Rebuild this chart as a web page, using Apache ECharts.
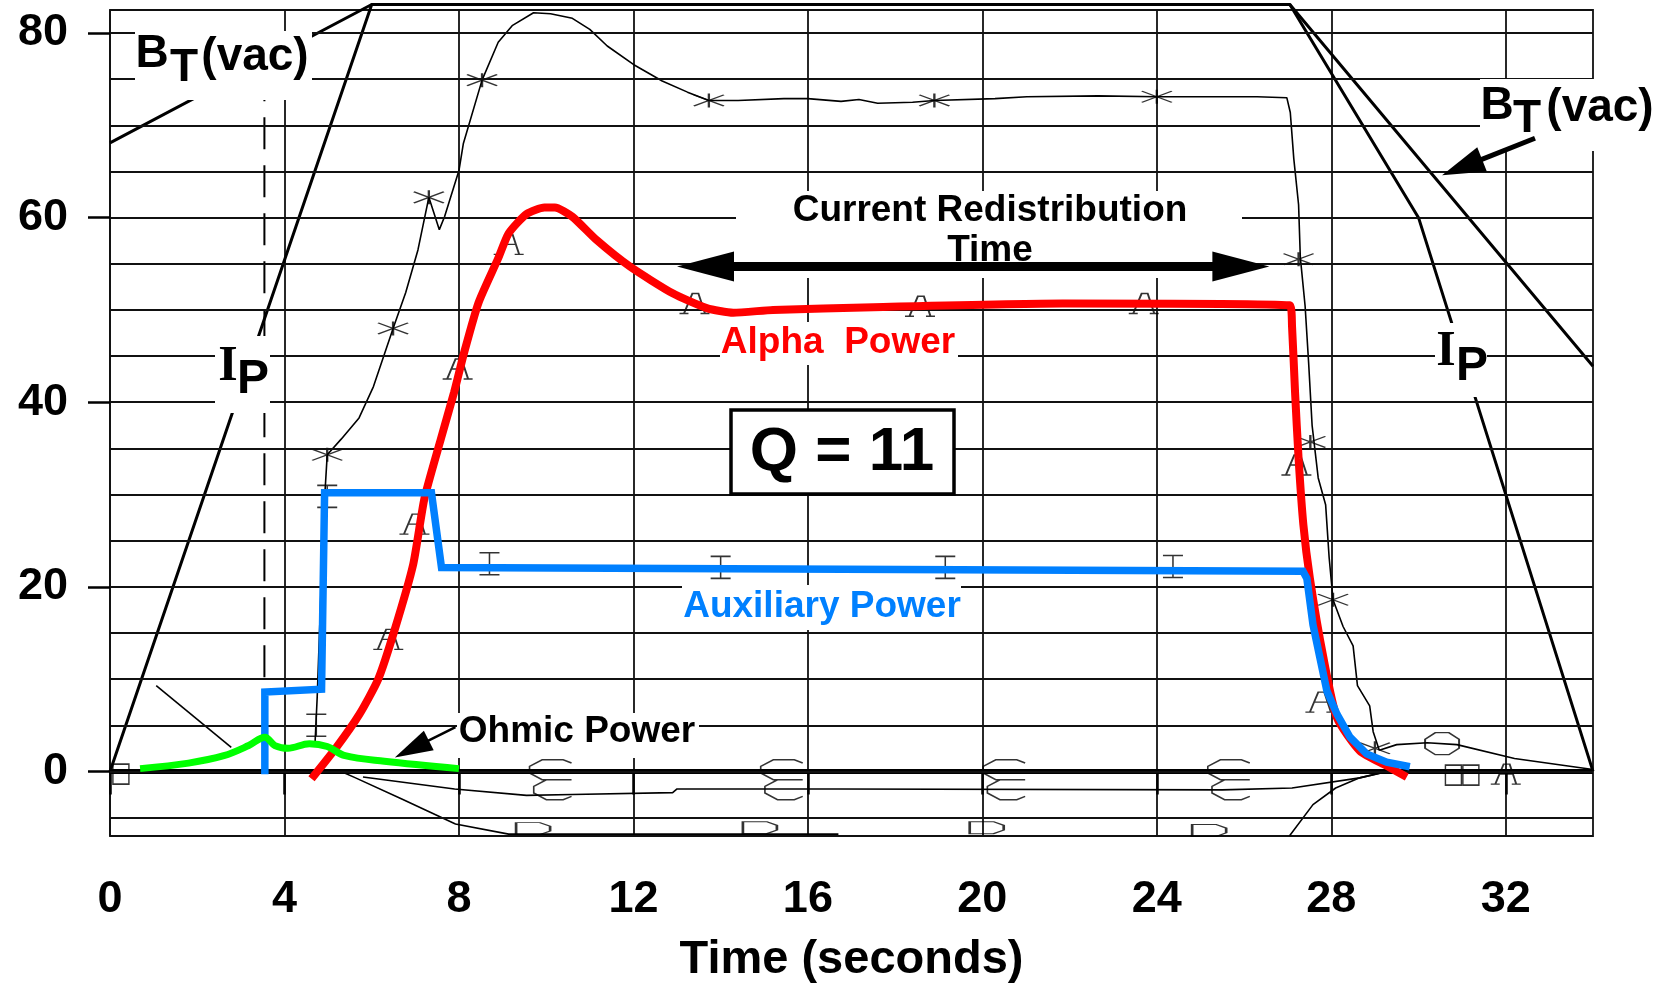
<!DOCTYPE html>
<html>
<head>
<meta charset="utf-8">
<title>Q = 11</title>
<script src="https://cdn.jsdelivr.net/npm/echarts@6/dist/echarts.min.js"></script>
<style>
	html, body { margin: 0; padding: 0; background: #fff; }
	#zoom { width: 1665px; height: 989px; }
</style>
</head>
<body>
<div id="zoom"></div>
<script>
	// axis ticks / grid
	const timeTicks = [0, 4, 8, 12, 16, 20, 24, 28, 32]
	const powerTicks = [0, 20, 40, 60, 80]
	const powerGrid = [-5, 0, 5, 10, 15, 20, 25, 30, 35, 40, 45, 50, 55, 60, 65, 70, 75, 80]

	// coil field and plasma current traces
	const btVac = [[0, 68.1], [6.0, 83.1], [27.05, 83.1], [34, 43.9]]
	const ipCurrent = [[0, 0], [6.0, 83.1], [27.05, 83.1], [30, 60], [34, 0]]
	const dashLine = [[3.54, -0.2], [3.54, 74.4]]
	const zeroLine = [[0, 0], [34, 0]]

	// heating powers (MW)
	const alphaPower = [[4.62, -0.8], [5.19, 2.6], [5.72, 6.2], [6.15, 10], [6.53, 15.4], [6.95, 22.4], [7.21, 29.6],
		[7.59, 36.1], [7.89, 41.1], [8.12, 45.4], [8.45, 50.8], [8.9, 55.6], [9.14, 58.3], [9.55, 60.4], [9.96, 61.1],
		[10.2, 61.1], [10.6, 60.1], [11.15, 57.6], [11.92, 54.7], [12.9, 51.8], [13.68, 50.2], [14.29, 49.7],
		[15.2, 50.0], [17.5, 50.3], [21.84, 50.7], [27.05, 50.5], [27.1, 48.2], [27.17, 41], [27.25, 33.9],
		[27.36, 26.7], [27.51, 20.9], [27.82, 12.3], [28.13, 5.8], [28.66, 2.2], [29.27, 0.6], [29.73, -0.6]]
	const auxPower = [[3.55, -0.3], [3.55, 8.6], [4.85, 8.9], [4.92, 30.2], [7.37, 30.2], [7.6, 22.1], [27.35, 21.7],
		[27.44, 20.9], [27.58, 15.9], [27.74, 12.3], [27.9, 8.7], [28.13, 6.2], [28.43, 3.7], [28.81, 1.9],
		[29.27, 1.0], [29.8, 0.5]]
	const ohmicPower = [[0.69, 0.3], [1.8, 0.9], [2.61, 1.7], [3.18, 2.8], [3.55, 3.7], [3.78, 2.8], [4.08, 2.5],
		[4.57, 3.0], [4.98, 2.7], [5.39, 1.7], [6.29, 1.1], [8.0, 0.3]]

	// thin measured traces
	const starTrace = [[4.7, 3], [4.75, 8], [4.9, 28], [4.98, 34.3], [5.3, 36], [5.71, 38.3], [6.04, 41.7], [6.49, 48],
		[6.78, 51.9], [7.06, 56.5], [7.31, 62.2], [7.55, 58.7], [7.67, 60.1], [8.0, 65.1], [8.1, 68], [8.53, 74.9],
		[8.9, 79], [9.22, 80.8], [9.71, 82.2], [10.1, 82.1], [10.6, 81.6], [11.0, 80.4], [11.4, 78.6], [12.0, 76.6],
		[12.66, 74.8], [13.24, 73.6], [13.73, 72.7], [14.4, 72.7], [15.45, 72.9], [16.0, 72.9], [16.76, 72.6],
		[17.17, 72.8], [17.6, 72.4], [18.4, 72.5], [18.9, 72.7], [20.29, 72.9], [21.02, 73.1], [22.65, 73.2],
		[24, 73.1], [26.3, 73.1], [26.98, 73.0], [27.06, 71.4], [27.14, 66.4], [27.25, 61.4], [27.29, 55.7],
		[27.4, 50.4], [27.48, 44.3], [27.56, 37.5], [27.7, 31.8], [27.87, 28.9], [27.95, 23.2], [28.04, 18.6],
		[28.27, 15.7], [28.5, 13.6], [28.6, 9.3], [28.88, 7.1], [28.96, 4.3], [29.1, 2.3]]
	const oTrace = [[29.1, 2.3], [29.5, 2.9], [30.2, 3.1], [30.88, 2.9], [32.2, 1.4], [34, 0.2]]
	const cTrace = [[5.8, -0.6], [7.9, -1.9], [9.55, -2.6], [10.6, -2.5], [12.9, -2.3], [13.0, -1.9], [16.7, -1.9],
		[25.5, -2.0], [27.1, -1.8], [28.65, -0.7], [29.3, 0]]
	const dTrace = [[5.3, 0], [5.63, -0.7], [6.69, -3], [7.92, -5.7], [9.14, -6.8], [16.7, -6.8]]
	const dRise = [[27.04, -7.0], [27.58, -3.6], [28.1, -1.8], [28.65, -0.7], [29.1, -0.2]]
	const diagTrace = [[1.06, 9.3], [2.78, 2.6]]

	// trace markers
	const starMarks = [[4.98, 34.3], [6.49, 48], [7.31, 62.2], [8.53, 74.9], [13.73, 72.7], [18.9, 72.7],
		[24.0, 73.1], [27.25, 55.5], [27.52, 35.7], [28.04, 18.6], [29.0, 2.5]]
	const aMarks = [[6.38, 14.3], [6.98, 26.8], [7.97, 43.6], [9.14, 57.1], [13.4, 50.7], [18.57, 50.4],
		[23.7, 50.7], [27.2, 33.2], [27.75, 7.5], [32.0, -0.3]]
	const iMarks = [[4.73, 5.0], [4.98, 29.8], [8.7, 22.5], [14.0, 22.1], [19.15, 22.1], [24.37, 22.2]]
	const cMarks = [[10.1, -0.9], [15.4, -0.9], [20.5, -0.9], [25.65, -0.9]]
	const dMarks = [[9.7, -6.2], [14.9, -6.1], [20.1, -6.1], [25.2, -6.4]]
	const sqMarks = [[0.25, -0.3], [30.8, -0.4], [31.2, -0.4]]
	const oMarks = [[30.54, 3.0]]

	// annotation arrows: [from, to]
	const redistArrow = [13.0, 54.7, 26.58, 54.7]
	const btArrow = [32.67, 68.6, 30.54, 64.6]
	const ohmicArrow = [7.92, 4.8, 6.53, 1.5]
	const arrowLook = [
		{ shaft: 9, head: 57, half: 15, both: true },
		{ shaft: 5, head: 43, half: 13, both: false },
		{ shaft: 2.5, head: 38, half: 11, both: false },
	]

	const FONT = '"Liberation Sans", Arial, Helvetica, sans-serif'
	const SERIF = '"Liberation Serif", "Times New Roman", serif'
	const INK = '#000'

	const thin = (data) => ({
		type: 'line', data, symbol: 'none', z: 2, silent: true,
		lineStyle: { color: '#000', width: 1.6 }
	})
	const marks = (data, symbol, size) => ({
		type: 'scatter', data, symbol, symbolSize: size, z: 3, silent: true,
		itemStyle: { color: 'none', borderColor: '#000', borderWidth: 1.6 }
	})

	const renderArrow = (params, api) => {
		const look = arrowLook[params.dataIndex]
		const a = api.coord([api.value(0), api.value(1)])
		const b = api.coord([api.value(2), api.value(3)])
		const dx = b[0] - a[0], dy = b[1] - a[1]
		const L = Math.sqrt(dx * dx + dy * dy)
		const ux = dx / L, uy = dy / L, nx = -uy, ny = ux
		const head = (tip, sx, sy) => {
			const bx = tip[0] - sx * look.head, by = tip[1] - sy * look.head
			return {
				type: 'polygon',
				shape: { points: [tip, [bx + nx * look.half, by + ny * look.half], [bx - nx * look.half, by - ny * look.half]] },
				style: { fill: INK }
			}
		}
		const start = look.both ? [a[0] + ux * look.head * 0.9, a[1] + uy * look.head * 0.9] : a
		const end = [b[0] - ux * look.head * 0.9, b[1] - uy * look.head * 0.9]
		const children = [{
			type: 'line',
			shape: { x1: start[0], y1: start[1], x2: end[0], y2: end[1] },
			style: { stroke: INK, lineWidth: look.shaft }
		}, head(b, ux, uy)]
		if (look.both) children.push(head(a, -ux, -uy))
		return { type: 'group', children }
	}

	const box = (x, y, w, h, border) => ({
		type: 'rect', z: 10, silent: true,
		shape: { x, y, width: w, height: h },
		style: border ? { fill: '#fff', stroke: INK, lineWidth: border } : { fill: '#fff' }
	})
	const txt = (x, y, text, size, color, family) => ({
		type: 'text', z: 11, silent: true, x, y,
		style: {
			text, fill: color || INK, font: 'bold ' + size + 'px ' + (family || FONT),
			textAlign: 'center', textVerticalAlign: 'middle'
		}
	})

	let myChart = echarts.init(document.getElementById('zoom'), null, { renderer: 'canvas' })

	const option = {
		animation: false,
		backgroundColor: '#fff',
		grid: {
			left: 110, right: 72, top: 10, bottom: 145,
			show: true, borderColor: '#111', borderWidth: 1.8
		},
		xAxis: {
			type: 'value', min: 0, max: 34, interval: 2,
			axisLine: { show: false },
			axisTick: { show: true, customValues: timeTicks, length: 23, lineStyle: { color: INK, width: 2.5 } },
			axisLabel: {
				customValues: timeTicks, margin: 41, color: INK,
				fontSize: 45, fontWeight: 'bold', fontFamily: FONT
			},
			splitLine: { show: true, lineStyle: { color: '#111', width: 1.8 } },
			name: 'Time (seconds)', nameLocation: 'middle', nameGap: 101,
			nameTextStyle: { color: INK, fontSize: 47, fontWeight: 'bold', fontFamily: FONT }
		},
		yAxis: {
			type: 'value', min: -7, max: 82.5,
			axisLine: { show: false },
			axisTick: { show: true, customValues: powerTicks, length: 22, lineStyle: { color: INK, width: 2.5 } },
			axisLabel: {
				customValues: powerTicks, margin: 42, color: INK,
				fontSize: 45, fontWeight: 'bold', fontFamily: FONT
			},
			splitLine: { show: false }
		},
		graphic: [
			// B_T(vac) left
			box(135, 31, 177, 69),
			txt(152, 54, 'B', 46), txt(184, 68, 'T', 46), txt(255, 57, '(vac)', 46),
			// I_P left
			box(215, 336, 55, 77),
			txt(228, 367, 'I', 50, INK, SERIF), txt(253, 380, 'P', 48),
			// B_T(vac) right
			box(1480, 79, 185, 72),
			txt(1497, 106, 'B', 46), txt(1527, 119, 'T', 46), txt(1600, 108, '(vac)', 46),
			// I_P right
			box(1435, 323, 52, 74),
			txt(1446, 352, 'I', 50, INK, SERIF), txt(1472, 367, 'P', 48),
			// current redistribution
			box(736, 191, 506, 87),
			txt(990, 211, 'Current Redistribution', 37), txt(990, 251, 'Time', 37),
			// alpha / aux / ohmic labels
			box(720, 322, 238, 43),
			txt(838, 343, 'Alpha  Power', 37, '#ff0000'),
			box(682, 585, 279, 45),
			txt(822, 607, 'Auxiliary Power', 37, '#0080ff'),
			box(457, 713, 242, 45),
			txt(577, 732, 'Ohmic Power', 37),
			// Q box
			box(731, 410, 223, 84, 3.5),
			txt(842, 453, 'Q = 11', 62)
		],
		series: [
			{
				// horizontal grid lines
				type: 'line', data: [[0, -7], [34, -7]], symbol: 'none', z: 1, silent: true,
				lineStyle: { width: 0 },
				markLine: {
					silent: true, symbol: ['none', 'none'], label: { show: false },
					lineStyle: { color: '#111', width: 1.8, type: 'solid' },
					data: powerGrid.map(v => ({ yAxis: v }))
				}
			},
			thin(starTrace), thin(oTrace), thin(cTrace), thin(dTrace), thin(dRise), thin(diagTrace),
			marks(starMarks, 'path://M0,1L10,9M0,9L10,1M5,0L5,10', [30, 14]),
			marks(aMarks, 'path://M0,10L3,10M1.5,10L4.3,1L6.3,1L8.5,10M7,10L10,10M3,5.5L7.2,5.5', [30, 20]),
			marks(iMarks, 'path://M0,0L10,0M5,0L5,10M0,10L10,10', [20, 22]),
			marks(cMarks, 'path://M10,1L8,0L3,0L0,2L0,4L3,6L10,6M10,6L4,6L1,8L1,10L4,12L8,12L10,11', [42, 40]),
			marks(dMarks, 'path://M0,10L0,0L7,0L10,3L10,7L7,10Z', [34, 12]),
			marks(sqMarks, 'path://M0,0L10,0L10,10L0,10Z', [16, 20]),
			marks(oMarks, 'path://M3,0L7,0L10,3L10,7L7,10L3,10L0,7L0,3Z', [34, 22]),
			{
				name: 'BT(vac)', type: 'line', data: btVac, symbol: 'none', z: 4, clip: false, silent: true,
				lineStyle: { color: INK, width: 3 }
			},
			{
				name: 'IP', type: 'line', data: ipCurrent, symbol: 'none', z: 4, clip: false, silent: true,
				lineStyle: { color: INK, width: 3 }
			},
			{
				type: 'line', data: dashLine, symbol: 'none', z: 4, silent: true,
				lineStyle: { color: INK, width: 2, type: [32, 16] }
			},
			{
				type: 'line', data: zeroLine, symbol: 'none', z: 4, silent: true,
				lineStyle: { color: INK, width: 5 }
			},
			{
				name: 'Alpha Power', type: 'line', data: alphaPower, symbol: 'none', z: 5, smooth: 0.2,
				lineStyle: { color: '#ff0000', width: 8 }
			},
			{
				name: 'Auxiliary Power', type: 'line', data: auxPower, symbol: 'none', z: 6,
				lineStyle: { color: '#0080ff', width: 7.5, join: 'miter' }
			},
			{
				name: 'Ohmic Power', type: 'line', data: ohmicPower, symbol: 'none', z: 7, smooth: 0.35,
				lineStyle: { color: '#00ff00', width: 7 }
			},
			{
				type: 'custom', z: 20, silent: true,
				renderItem: renderArrow,
				encode: { x: [0, 2], y: [1, 3] },
				data: [redistArrow, btArrow, ohmicArrow]
			}
		]
	}

	myChart.setOption(option)
</script>
</body>
</html>
